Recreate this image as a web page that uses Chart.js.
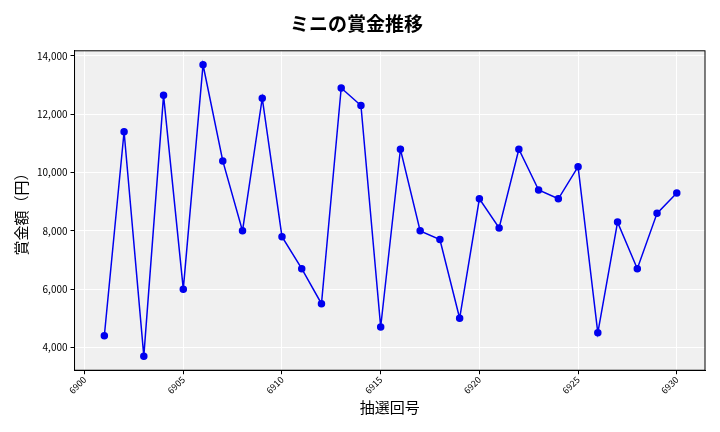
<!DOCTYPE html>
<html><head><meta charset="utf-8">
<script src="https://cdn.jsdelivr.net/npm/chart.js@4/dist/chart.umd.min.js"></script>
<style>html,body{margin:0;background:#fff}#w{width:720px;height:432px}</style>
</head><body><div id="w"><canvas id="c"></canvas></div>
<script>
const draws=[6901,6902,6903,6904,6905,6906,6907,6908,6909,6910,6911,6912,6913,6914,6915,6916,6917,6918,6919,6920,6921,6922,6923,6924,6925,6926,6927,6928,6929,6930];
const prizes=[4400,11400,3700,12650,6000,13700,10400,8000,12550,7800,6700,5500,12900,12300,4700,10800,8000,7700,5000,9100,8100,10800,9400,9100,10200,4500,8300,6700,8600,9300];
const F='"Noto Sans CJK JP","Noto Sans",sans-serif';
const bg={id:'bg',beforeDraw(c){const a=c.chartArea,x=c.ctx;x.save();x.fillStyle='#f0f0f0';x.fillRect(a.left,a.top,a.right-a.left,a.bottom-a.top);x.restore();},
afterDraw(c){const a=c.chartArea,x=c.ctx;x.save();x.strokeStyle='#000';x.lineWidth=1;x.strokeRect(a.left,a.top,a.right-a.left,a.bottom-a.top);x.restore();}};
new Chart(document.getElementById('c'),{type:'line',
data:{datasets:[{data:draws.map((d,i)=>({x:d,y:prizes[i]})),borderColor:'#0000ee',backgroundColor:'#0000ee',borderWidth:1.5,pointRadius:3,tension:0}]},
options:{responsive:true,maintainAspectRatio:false,animation:false,
layout:{padding:{left:8,right:15,top:8,bottom:12}},
plugins:{legend:{display:false},title:{display:true,text:'ミニの賞金推移',font:{family:F,size:19,weight:'bold'},color:'#000',padding:{top:4,bottom:16}}},
scales:{x:{type:'linear',min:6899.49,max:6931.43,afterBuildTicks(s){s.ticks=[6900,6905,6910,6915,6920,6925,6930].map(v=>({value:v}));},
ticks:{maxRotation:45,minRotation:45,padding:0,font:{family:F,size:9},color:'#000',callback:v=>String(v)},
grid:{color:'#fff',lineWidth:1,tickColor:'#000',tickLength:4},border:{color:'#000'},
title:{display:true,text:'抽選回号',font:{family:F,size:15},color:'#000',padding:{top:2}}},
y:{min:3217,max:14178,afterBuildTicks(s){s.ticks=[4000,6000,8000,10000,12000,14000].map(v=>({value:v}));},
ticks:{font:{family:F,size:10},color:'#000',callback:v=>v.toLocaleString('en-US')},
grid:{color:'#fff',lineWidth:1,tickColor:'#000',tickLength:4},border:{color:'#000'},
title:{display:true,text:'賞金額（円）',font:{family:F,size:15},color:'#000'}}}},
plugins:[bg]});
</script></body></html>
